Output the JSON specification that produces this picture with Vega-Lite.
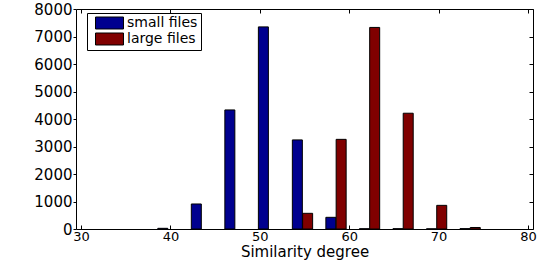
{
  "$schema": "https://vega.github.io/schema/vega-lite/v6.json",
  "width": 457,
  "height": 220,
  "autosize": {"type": "none"},
  "padding": {"left": 76, "top": 9, "right": 19, "bottom": 31},
  "background": "white",
  "config": {
    "view": {"stroke": "black", "strokeWidth": 1},
    "font": "DejaVu Sans",
    "axis": {
      "grid": false,
      "domain": false,
      "tickColor": "black",
      "tickWidth": 1,
      "labelColor": "black",
      "labelFont": "DejaVu Sans",
      "labelFontSize": 15,
      "titleFont": "DejaVu Sans",
      "titleFontSize": 15,
      "titleFontWeight": "normal",
      "titleColor": "black"
    }
  },
  "data": {
    "values": [
      {"degree": 39.15, "count": 25, "series": "small files"},
      {"degree": 42.9, "count": 910, "series": "small files"},
      {"degree": 46.65, "count": 4330, "series": "small files"},
      {"degree": 50.4, "count": 7350, "series": "small files"},
      {"degree": 54.2, "count": 3240, "series": "small files"},
      {"degree": 57.95, "count": 425, "series": "small files"},
      {"degree": 61.7, "count": 8, "series": "small files"},
      {"degree": 65.45, "count": 10, "series": "small files"},
      {"degree": 69.2, "count": 5, "series": "small files"},
      {"degree": 72.95, "count": 12, "series": "small files"},
      {"degree": 55.35, "count": 570, "series": "large files"},
      {"degree": 59.1, "count": 3260, "series": "large files"},
      {"degree": 62.85, "count": 7330, "series": "large files"},
      {"degree": 66.6, "count": 4210, "series": "large files"},
      {"degree": 70.35, "count": 860, "series": "large files"},
      {"degree": 74.1, "count": 55, "series": "large files"}
    ]
  },
  "layer": [
    {
      "mark": {"type": "bar", "orient": "vertical", "size": 10, "stroke": "black", "strokeWidth": 1},
      "encoding": {
        "x": {
          "field": "degree",
          "type": "quantitative",
          "scale": {"domain": [30, 80], "nice": false, "zero": false},
          "axis": {
            "orient": "bottom",
            "values": [30, 40, 50, 60, 70, 80],
            "tickSize": -4,
            "labelPadding": 5,
            "labelFontSize": 13,
            "labelFlush": false,
            "title": "Similarity degree",
            "titleBaseline": "alphabetic",
            "titlePadding": 13
          }
        },
        "y": {
          "field": "count",
          "type": "quantitative",
          "scale": {"domain": [0, 8000], "nice": false},
          "axis": {
            "orient": "left",
            "values": [0, 1000, 2000, 3000, 4000, 5000, 6000, 7000, 8000],
            "format": "d",
            "tickSize": 3,
            "labelPadding": 1,
            "title": null
          }
        },
        "color": {
          "field": "series",
          "type": "nominal",
          "scale": {"domain": ["small files", "large files"], "range": ["#00008f", "#800000"]},
          "legend": {
            "orient": "none",
            "legendX": 11,
            "legendY": 4,
            "title": null,
            "symbolType": "M-1,-1.09H4.09V1.09H-1Z",
            "symbolSize": 121,
            "symbolStrokeColor": "black",
            "symbolStrokeWidth": 1,
            "symbolOpacity": 1,
            "labelFontSize": 14,
            "labelFont": "DejaVu Sans",
            "labelColor": "black",
            "labelOffset": 19,
            "strokeColor": "black",
            "fillColor": "white",
            "padding": 3,
            "rowPadding": 0,
            "symbolOffset": 4
          }
        }
      }
    },
    {
      "mark": {"type": "point", "opacity": 0},
      "encoding": {
        "x": {
          "field": "degree",
          "type": "quantitative",
          "scale": {"domain": [30, 80], "nice": false, "zero": false},
          "axis": {
            "orient": "top",
            "values": [30, 40, 50, 60, 70, 80],
            "tickSize": -4,
            "labels": false,
            "title": null
          }
        },
        "y": {
          "field": "count",
          "type": "quantitative",
          "scale": {"domain": [0, 8000], "nice": false},
          "axis": {
            "orient": "right",
            "values": [0, 1000, 2000, 3000, 4000, 5000, 6000, 7000, 8000],
            "tickSize": -4,
            "labels": false,
            "title": null
          }
        }
      }
    }
  ],
  "resolve": {"axis": {"x": "independent", "y": "independent"}}
}
